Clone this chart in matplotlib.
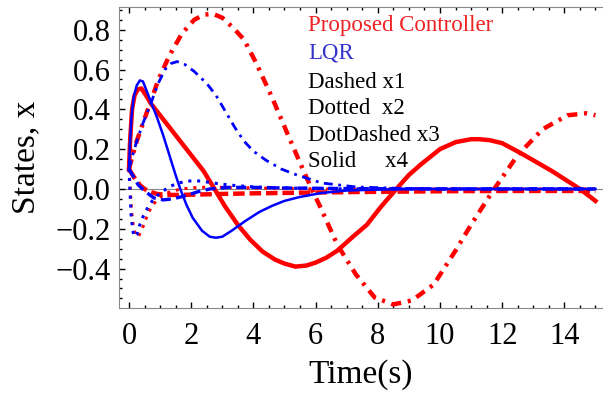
import numpy as np
import matplotlib.pyplot as plt
from matplotlib.ticker import MultipleLocator, FuncFormatter

plt.rcParams['font.family'] = ['Liberation Serif', 'DejaVu Serif']

# Proposed controller states
t_pc_x1 = [0, 0.1, 0.2, 0.35, 0.5, 0.7, 0.9, 1.2, 1.6, 2.2, 3.0, 4.0, 5.0, 6.0, 7.5, 9.0, 10.5, 12.0, 13.5, 15.0]
pc_x1 = [0.10, 0.075, 0.05, 0.02, 0.0, -0.015, -0.025, -0.03, -0.03, -0.028, -0.025, -0.022, -0.02, -0.018,
         -0.015, -0.013, -0.011, -0.01, -0.01, -0.01]

t_pc_x2 = [0, 0.04, 0.09, 0.15, 0.22, 0.3, 0.4, 0.5, 0.62, 0.75, 0.9, 1.1, 1.35, 1.7, 2.2, 3.0, 4.0, 6.0, 9.0, 12.0, 15.0]
pc_x2 = [0.10, 0.0, -0.12, -0.2, -0.235, -0.24, -0.21, -0.17, -0.12, -0.085, -0.055, -0.03, -0.012, 0.0,
         0.008, 0.008, 0.005, 0.0, 0.0, 0.0, 0.0]

t_pc_x3 = [0, 0.12, 0.25, 0.45, 0.7, 0.95, 1.3, 1.7, 2.1, 2.4, 2.7, 3.0, 3.35, 3.7, 4.1, 4.6, 5.2, 5.7, 6.15,
           6.7, 7.3, 7.9, 8.5, 9.1, 9.8, 10.5, 11.0, 11.7, 12.5, 13.3, 14.1, 14.7, 15.0]
pc_x3 = [0.10, 0.17, 0.24, 0.33, 0.44, 0.55, 0.67, 0.78, 0.85, 0.875, 0.88, 0.86, 0.81, 0.75, 0.63, 0.46, 0.24,
         0.06, -0.09, -0.28, -0.43, -0.545, -0.58, -0.56, -0.48, -0.31, -0.18, -0.01, 0.17, 0.30, 0.37, 0.38, 0.37]

t_pc_x4 = [0, 0.04, 0.1, 0.18, 0.28, 0.4, 0.55, 0.7, 1.0, 1.3, 1.6, 2.0, 2.4, 2.75, 3.1, 3.5, 3.9, 4.3, 4.7,
           5.0, 5.35, 5.7, 6.0, 6.35, 6.7, 7.2, 7.65, 8.1, 8.6, 9.0, 9.4, 10.0, 10.5, 11.0, 11.25, 11.6, 12.0,
           12.6, 13.1, 13.6, 14.1, 14.5, 15.0]
pc_x4 = [0.10, 0.25, 0.40, 0.47, 0.50, 0.505, 0.47, 0.43, 0.37, 0.31, 0.25, 0.17, 0.09, 0.0, -0.09, -0.18,
         -0.255, -0.315, -0.355, -0.375, -0.39, -0.385, -0.37, -0.345, -0.31, -0.24, -0.18, -0.09, 0.0, 0.07,
         0.125, 0.20, 0.235, 0.25, 0.25, 0.245, 0.23, 0.18, 0.135, 0.09, 0.04, 0.0, -0.06]

# LQR states
t_lqr_x1 = [0, 0.15, 0.3, 0.5, 0.8, 1.1, 1.4, 1.8, 2.2, 2.6, 3.2, 4.0, 5.0, 7.0, 10.0, 15.0]
lqr_x1 = [0.10, 0.06, 0.02, -0.01, -0.045, -0.055, -0.05, -0.035, -0.015, 0.0, 0.008, 0.008, 0.005, 0.002, 0.0, 0.0]

t_lqr_x2 = [0, 0.03, 0.07, 0.12, 0.18, 0.25, 0.35, 0.45, 0.6, 0.75, 0.9, 1.1, 1.35, 1.6, 1.9, 2.3, 2.7, 3.2,
            4.0, 5.0, 7.0, 10.0, 15.0]
lqr_x2 = [0.10, 0.0, -0.13, -0.21, -0.24, -0.23, -0.18, -0.14, -0.095, -0.06, -0.035, -0.01, 0.015, 0.03,
          0.04, 0.04, 0.03, 0.02, 0.01, 0.005, 0.0, 0.0, 0.0]

t_lqr_x3 = [0, 0.12, 0.25, 0.45, 0.68, 0.94, 1.16, 1.35, 1.55, 1.8, 2.1, 2.5, 2.8, 3.1, 3.4, 3.7, 4.0, 4.4,
            4.9, 5.4, 6.2, 7.3, 8.5, 10.0, 12.0, 15.0]
lqr_x3 = [0.10, 0.17, 0.24, 0.33, 0.42, 0.53, 0.60, 0.63, 0.64, 0.625, 0.59, 0.53, 0.47, 0.39, 0.31, 0.24,
          0.19, 0.145, 0.10, 0.07, 0.03, 0.01, 0.004, 0.0, 0.0, 0.0]

t_lqr_x4 = [0, 0.03, 0.08, 0.15, 0.25, 0.35, 0.45, 0.55, 0.7, 0.9, 1.1, 1.32, 1.5, 1.65, 1.85, 2.05, 2.35,
            2.6, 2.8, 3.0, 3.3, 3.75, 4.2, 4.6, 5.0, 5.5, 6.2, 7.0, 8.0, 9.0, 11.0, 13.0, 15.0]
lqr_x4 = [0.10, 0.22, 0.36, 0.46, 0.52, 0.545, 0.54, 0.50, 0.44, 0.36, 0.27, 0.16, 0.07, 0.0, -0.08, -0.145,
          -0.21, -0.24, -0.245, -0.24, -0.21, -0.16, -0.115, -0.085, -0.06, -0.04, -0.02, -0.008, -0.003,
          0.0, 0.0, 0.0, 0.0]

legend_lines = ['Dashed x1', 'Dotted  x2', 'DotDashed x3', 'Solid     x4']

red = '#ff0000'
blue = '#0000ff'

fig = plt.figure(figsize=(6.03, 3.94), dpi=100)
ax = fig.add_axes([119 / 603, 1 - 308 / 394, 484 / 603, 301 / 394])

ax.axhline(0, color='#888888', lw=0.8, zorder=1)

# red: proposed controller (thick), blue: LQR (thin)
ax.plot(t_pc_x1, pc_x1, color=red, lw=3.2, ls=(0, (2.6, 1.1)))
ax.plot(t_pc_x2, pc_x2, color=red, lw=2.2, ls=(0, (1.0, 1.9)))
ax.plot(t_pc_x3, pc_x3, color=red, lw=3.2, ls=(0, (2.3, 1.5, 0.7, 1.5)))
ax.plot(t_pc_x4, pc_x4, color=red, lw=3.2)

ax.plot(t_lqr_x1, lqr_x1, color=blue, lw=2.4, ls=(0, (3.0, 1.6)))
ax.plot(t_lqr_x2, lqr_x2, color=blue, lw=2.2, ls=(0, (1.0, 1.9)))
ax.plot(t_lqr_x3, lqr_x3, color=blue, lw=2.0, ls=(0, (3.2, 2.0, 1.0, 2.0)))
ax.plot(t_lqr_x4, lqr_x4, color=blue, lw=1.8)

ax.set_xlim(-0.32, -0.32 + 484 / 31.1)
ax.set_ylim(-0.598, 0.914)

ax.xaxis.set_major_locator(MultipleLocator(2))
ax.xaxis.set_minor_locator(MultipleLocator(0.5))
ax.yaxis.set_major_locator(MultipleLocator(0.2))
ax.yaxis.set_minor_locator(MultipleLocator(0.05))
ax.yaxis.set_major_formatter(FuncFormatter(lambda v, pos: f'{v:.1f}'.replace('-', '\u2212')))

for side in ['left', 'top', 'bottom']:
    ax.spines[side].set_color('#888888')
    ax.spines[side].set_linewidth(0.8)
ax.spines['right'].set_visible(False)

ax.tick_params(which='both', direction='in', top=True, right=False, color='black', width=1.0)
ax.tick_params(which='major', length=4, labelsize=22)
ax.tick_params(axis='x', which='major', pad=10)
ax.tick_params(axis='y', which='major', pad=6)
ax.tick_params(which='minor', length=2.2)

ax.set_xlabel('Time(s)', fontsize=24, labelpad=6)
ax.set_ylabel('States, x', fontsize=24, labelpad=10)

# legend text, baselines given in pixels from the top of the figure
def fig_y(py):
    return 1 - py / 394

ax.text(308 / 603, fig_y(31), 'Proposed Controller', color='#ee2222', fontsize=16.5, transform=fig.transFigure)
ax.text(308 / 603, fig_y(58), 'LQR', color='#3333cc', fontsize=16.5, transform=fig.transFigure)
for i, s in enumerate(legend_lines):
    ax.text(308 / 603, fig_y(88 + 26.3 * i), s, color='black', fontsize=16.5, transform=fig.transFigure)

fig.savefig('out.png', dpi=100)
